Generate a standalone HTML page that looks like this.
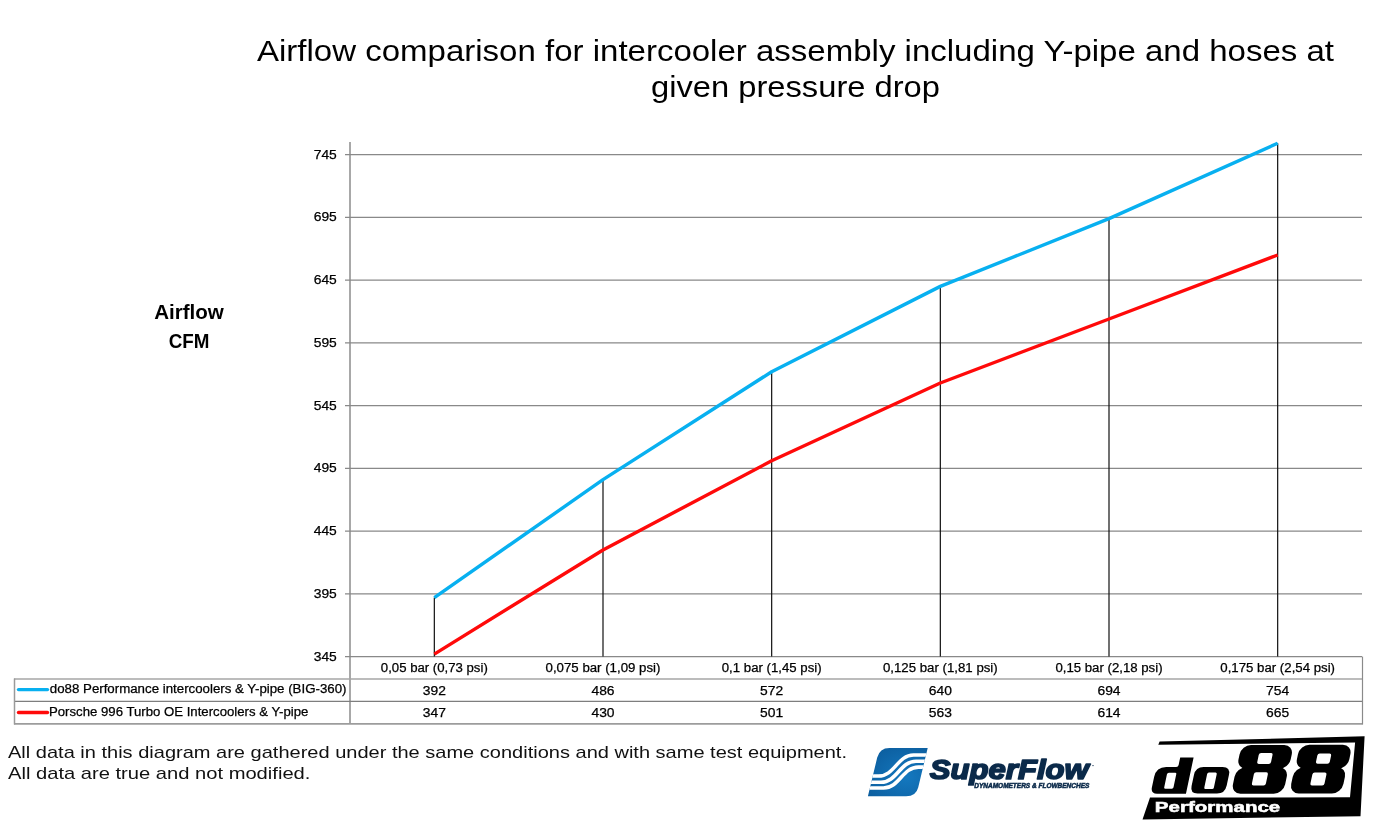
<!DOCTYPE html>
<html><head><meta charset="utf-8"><style>
html,body{margin:0;padding:0;background:#fff;width:1382px;height:826px;overflow:hidden}
svg{position:absolute;left:0;top:0;display:block;will-change:transform}
text{font-family:"Liberation Sans",sans-serif}
</style></head><body>
<svg width="1382" height="826" viewBox="0 0 1382 826">
<rect width="1382" height="826" fill="#fff"/>
<g fill="#000" font-size="30">
<text x="795.50" y="61.20" text-anchor="middle" textLength="1077" lengthAdjust="spacingAndGlyphs">Airflow comparison for intercooler assembly including Y-pipe and hoses at</text>
<text x="795.50" y="96.70" text-anchor="middle" textLength="289" lengthAdjust="spacingAndGlyphs">given pressure drop</text>
</g>
<g fill="#000" font-size="21" font-weight="bold">
<text x="189.00" y="319.30" text-anchor="middle" textLength="69.7" lengthAdjust="spacingAndGlyphs">Airflow</text>
<text x="189.00" y="348.00" text-anchor="middle" textLength="40.7" lengthAdjust="spacingAndGlyphs">CFM</text>
</g>
<g fill="none">
<line x1="350" y1="142" x2="350" y2="724" stroke="#a8a8a8" stroke-width="2"/>
<line x1="14" y1="679" x2="1362" y2="679" stroke="#a6a6a6" stroke-width="1.6"/>
<line x1="14" y1="701.4" x2="1362" y2="701.4" stroke="#7e7e7e" stroke-width="1.1"/>
<line x1="14" y1="723.8" x2="1362.6" y2="723.8" stroke="#9c9c9c" stroke-width="1.7"/>
<line x1="1362.5" y1="656.6" x2="1362.5" y2="724.5" stroke="#8a8a8a" stroke-width="1.2"/>
<line x1="14.5" y1="678.5" x2="14.5" y2="724.5" stroke="#9a9a9a" stroke-width="1.5"/>
</g>
<g stroke="#898989" stroke-width="1.4"><line x1="345" y1="656.60" x2="1362" y2="656.60"/><line x1="345" y1="593.85" x2="1362" y2="593.85"/><line x1="345" y1="531.10" x2="1362" y2="531.10"/><line x1="345" y1="468.35" x2="1362" y2="468.35"/><line x1="345" y1="405.60" x2="1362" y2="405.60"/><line x1="345" y1="342.85" x2="1362" y2="342.85"/><line x1="345" y1="280.10" x2="1362" y2="280.10"/><line x1="345" y1="217.35" x2="1362" y2="217.35"/><line x1="345" y1="154.60" x2="1362" y2="154.60"/></g>
<g stroke="#111" stroke-width="1.2"><line x1="434.33" y1="597.62" x2="434.33" y2="656.6"/><line x1="603.00" y1="479.65" x2="603.00" y2="656.6"/><line x1="771.67" y1="371.72" x2="771.67" y2="656.6"/><line x1="940.33" y1="286.38" x2="940.33" y2="656.6"/><line x1="1109.00" y1="218.61" x2="1109.00" y2="656.6"/><line x1="1277.67" y1="143.31" x2="1277.67" y2="656.6"/></g>
<polyline points="434.33,597.62 603.00,479.65 771.67,371.72 940.33,286.38 1109.00,218.61 1277.67,143.31" fill="none" stroke="#08b0f0" stroke-width="3.4" stroke-linejoin="round"/>
<polyline points="434.33,654.09 603.00,549.93 771.67,460.82 940.33,383.01 1109.00,319.01 1277.67,255.00" fill="none" stroke="#ff0a0a" stroke-width="3.4" stroke-linejoin="round"/>
<g fill="#000" stroke="#000" stroke-width="0.25" font-size="12.5">
<text x="336.80" y="660.50" text-anchor="end" textLength="23.1" lengthAdjust="spacingAndGlyphs">345</text><text x="336.80" y="597.75" text-anchor="end" textLength="23.1" lengthAdjust="spacingAndGlyphs">395</text><text x="336.80" y="535.00" text-anchor="end" textLength="23.1" lengthAdjust="spacingAndGlyphs">445</text><text x="336.80" y="472.25" text-anchor="end" textLength="23.1" lengthAdjust="spacingAndGlyphs">495</text><text x="336.80" y="409.50" text-anchor="end" textLength="23.1" lengthAdjust="spacingAndGlyphs">545</text><text x="336.80" y="346.75" text-anchor="end" textLength="23.1" lengthAdjust="spacingAndGlyphs">595</text><text x="336.80" y="284.00" text-anchor="end" textLength="23.1" lengthAdjust="spacingAndGlyphs">645</text><text x="336.80" y="221.25" text-anchor="end" textLength="23.1" lengthAdjust="spacingAndGlyphs">695</text><text x="336.80" y="158.50" text-anchor="end" textLength="23.1" lengthAdjust="spacingAndGlyphs">745</text>
<text x="434.33" y="671.90" text-anchor="middle" textLength="106.9" lengthAdjust="spacingAndGlyphs">0,05 bar (0,73 psi)</text><text x="603.00" y="671.90" text-anchor="middle" textLength="114.9" lengthAdjust="spacingAndGlyphs">0,075 bar (1,09 psi)</text><text x="771.67" y="671.90" text-anchor="middle" textLength="99.8" lengthAdjust="spacingAndGlyphs">0,1 bar (1,45 psi)</text><text x="940.33" y="671.90" text-anchor="middle" textLength="114.8" lengthAdjust="spacingAndGlyphs">0,125 bar (1,81 psi)</text><text x="1109.00" y="671.90" text-anchor="middle" textLength="107.1" lengthAdjust="spacingAndGlyphs">0,15 bar (2,18 psi)</text><text x="1277.67" y="671.90" text-anchor="middle" textLength="114.7" lengthAdjust="spacingAndGlyphs">0,175 bar (2,54 psi)</text>
<text x="434.33" y="694.50" text-anchor="middle" textLength="23.1" lengthAdjust="spacingAndGlyphs">392</text><text x="603.00" y="694.50" text-anchor="middle" textLength="23.1" lengthAdjust="spacingAndGlyphs">486</text><text x="771.67" y="694.50" text-anchor="middle" textLength="23.1" lengthAdjust="spacingAndGlyphs">572</text><text x="940.33" y="694.50" text-anchor="middle" textLength="23.1" lengthAdjust="spacingAndGlyphs">640</text><text x="1109.00" y="694.50" text-anchor="middle" textLength="23.1" lengthAdjust="spacingAndGlyphs">694</text><text x="1277.67" y="694.50" text-anchor="middle" textLength="23.1" lengthAdjust="spacingAndGlyphs">754</text>
<text x="434.33" y="717.10" text-anchor="middle" textLength="23.1" lengthAdjust="spacingAndGlyphs">347</text><text x="603.00" y="717.10" text-anchor="middle" textLength="23.1" lengthAdjust="spacingAndGlyphs">430</text><text x="771.67" y="717.10" text-anchor="middle" textLength="23.1" lengthAdjust="spacingAndGlyphs">501</text><text x="940.33" y="717.10" text-anchor="middle" textLength="23.1" lengthAdjust="spacingAndGlyphs">563</text><text x="1109.00" y="717.10" text-anchor="middle" textLength="23.1" lengthAdjust="spacingAndGlyphs">614</text><text x="1277.67" y="717.10" text-anchor="middle" textLength="23.1" lengthAdjust="spacingAndGlyphs">665</text>
<text x="49.80" y="693.30" textLength="296.7" lengthAdjust="spacingAndGlyphs">do88 Performance intercoolers &amp; Y-pipe (BIG-360)</text>
<text x="49.00" y="715.90" textLength="259.3" lengthAdjust="spacingAndGlyphs">Porsche 996 Turbo OE Intercoolers &amp; Y-pipe</text>
</g>
<line x1="18.5" y1="689.6" x2="47.5" y2="689.6" stroke="#08b0f0" stroke-width="3.4" stroke-linecap="round"/>
<line x1="18.5" y1="712.5" x2="47.5" y2="712.5" stroke="#ff0a0a" stroke-width="3.4" stroke-linecap="round"/>
<g fill="#111" font-size="17">
<text x="8.00" y="758.00" textLength="839" lengthAdjust="spacingAndGlyphs">All data in this diagram are gathered under the same conditions and with same test equipment.</text>
<text x="8.00" y="778.80" textLength="302.4" lengthAdjust="spacingAndGlyphs">All data are true and not modified.</text>
</g>
<defs>
<radialGradient id="sfg" cx="0.62" cy="0.62" r="0.75">
<stop offset="0" stop-color="#1478bf"/><stop offset="1" stop-color="#0a5796"/>
</radialGradient>
<clipPath id="sfc"><path d="M889.5,747.9 L927.7,747.9 L918.2,787.6 Q916.1,796.3 906.1,796.3 L867.9,796.3 L877.2,757.6 Q879.5,747.9 889.5,747.9 Z"/></clipPath>
</defs>
<g clip-path="url(#sfc)">
<rect x="860" y="740" width="75" height="60" fill="url(#sfg)"/>
<g fill="none" stroke="#fff">
<path d="M850,776.1 L878.5,776.1 C894.5,776.1 897.5,755.1 913.5,755.1 L940,755.1" stroke-width="3.5"/>
<path d="M850,782.3 L881,782.3 C897,782.3 900,761.2 916,761.2 L940,761.2" stroke-width="3.6"/>
<path d="M850,788 L883.5,788 C899.5,788 902.5,767.1 918.5,767.1 L940,767.1" stroke-width="3.6"/>
</g>
</g>
<g fill="#0b2a4a" font-family="Liberation Sans" font-weight="bold" font-style="italic">
<text x="929.8" y="779.2" font-size="28.5" stroke="#0b2a4a" stroke-width="1.7" stroke-linejoin="round" textLength="159" lengthAdjust="spacingAndGlyphs">SuperFlow</text>
<text x="974.3" y="787.7" font-size="7.2" stroke="#0b2a4a" stroke-width="0.55" textLength="115" lengthAdjust="spacingAndGlyphs">DYNAMOMETERS &amp; FLOWBENCHES</text>
<circle cx="1093" cy="765.6" r="0.7"/>
</g>
<path fill="#000" d="M1159.6,741.6 L1364.6,736.2 L1360.5,816.2 L1142.5,819.6 L1150,797.6 L1350,797.3 L1355.1,742.5 L1158.3,744.8 Z"/>
<g transform="matrix(1 0 -0.21 1 166.66 0)">
<path fill="#000" fill-rule="evenodd" d="M1160.6,766.9 L1170.6,766.9 Q1172.6,766.9 1172.6,764.9 L1172.6,757.4 L1186,757.4 L1186,793.8 L1157.1,793.8 Q1150.6,793.8 1150.6,787.3 L1150.6,776.9 Q1150.6,766.9 1160.6,766.9 Z M1164.5,772.7 L1170.8,772.7 Q1172.2,772.7 1172.2,774.1 L1172.2,787.3 Q1172.2,788.7 1170.8,788.7 L1164.3,788.7 Q1162.9,788.7 1162.9,787.3 L1162.9,774.3 Q1162.9,772.7 1164.5,772.7 Z"/>
<path fill="#000" fill-rule="evenodd" d="M1198,766.9 L1217,766.9 Q1225,766.9 1225,774.9 L1225,785.6 Q1225,793.6 1217,793.6 L1197.5,793.6 Q1190,793.6 1190,786.1 L1190,774.9 Q1190,766.9 1198,766.9 Z M1204.5,772.4 L1211.1,772.4 Q1212.6,772.4 1212.6,773.9 L1212.6,787.4 Q1212.6,788.9 1211.1,788.9 L1204.5,788.9 Q1203,788.9 1203,787.4 L1203,773.9 Q1203,772.4 1204.5,772.4 Z"/>
<g fill="#000">
<rect x="1231.3" y="744.9" width="52.2" height="23.8" rx="9.5"/>
<rect x="1231" y="767.3" width="52.2" height="26.4" rx="9.5"/>
<rect x="1289.7" y="744.8" width="52.4" height="23.9" rx="9.5"/>
<rect x="1289.2" y="767.3" width="52.2" height="26.3" rx="9.5"/>
</g>
<g fill="#fff">
<rect x="1250.6" y="753" width="13.8" height="10.9" rx="2"/>
<rect x="1249.8" y="772.3" width="14" height="13.3" rx="2"/>
<rect x="1309.3" y="753.4" width="13.8" height="10.3" rx="2"/>
<rect x="1308.3" y="772.4" width="14.1" height="13.1" rx="2"/>
</g>
</g>
<text x="1154.8" y="812.3" font-family="Liberation Sans" font-weight="bold" font-size="14.2" fill="#fff" stroke="#fff" stroke-width="0.5" textLength="125.5" lengthAdjust="spacingAndGlyphs">Performance</text>

</svg>
</body></html>
